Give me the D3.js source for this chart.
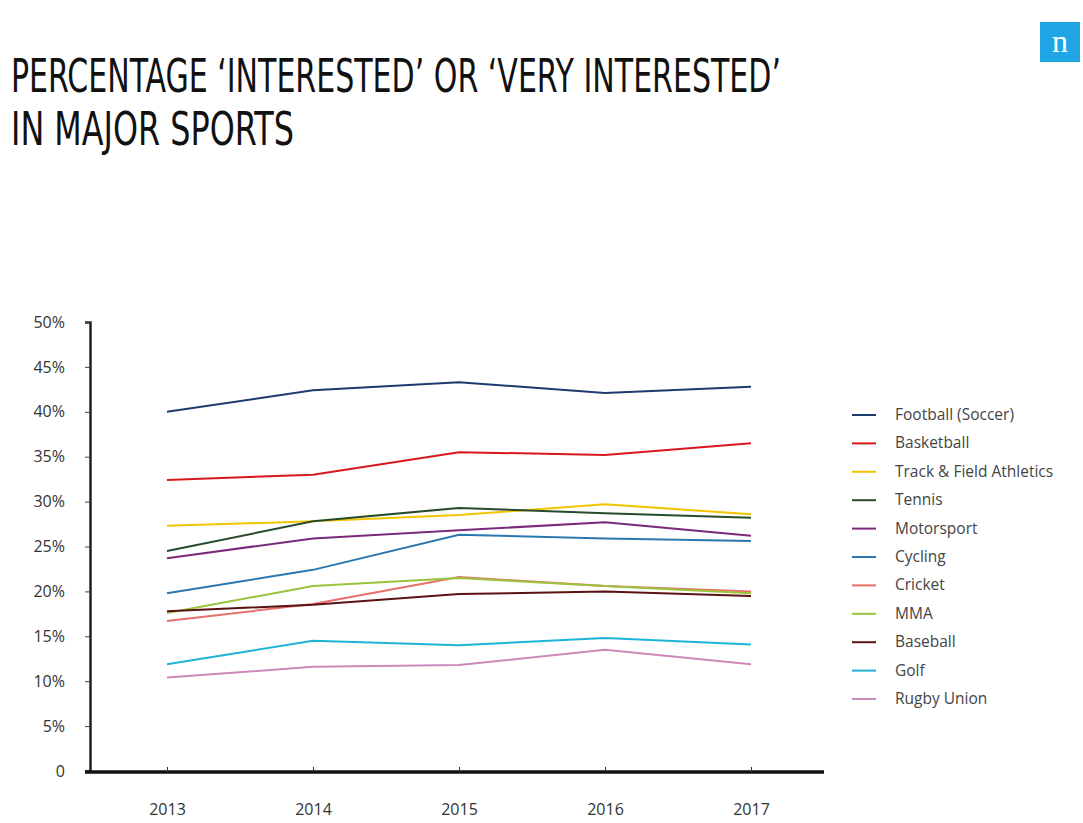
<!DOCTYPE html>
<html>
<head>
<meta charset="utf-8">
<title>Interest in major sports</title>
<script src="https://cdnjs.cloudflare.com/ajax/libs/d3/7.8.5/d3.min.js"></script>
<style>
  body { margin: 0; background: #fff; }
  svg { display: block; }
  .tick text { font-family: "Open Sans", "Noto Sans", sans-serif; fill: #333; }
</style>
</head>
<body>
<svg id="chart" width="1083" height="823"></svg>
<script>
// data
var years = ["2013", "2014", "2015", "2016", "2017"];
var yTicks = [0, 5, 10, 15, 20, 25, 30, 35, 40, 45, 50];

var sports = ["Football (Soccer)", "Basketball", "Track & Field Athletics", "Tennis", "Motorsport",
              "Cycling", "Cricket", "MMA", "Baseball", "Golf", "Rugby Union"];
var colors = ["#1f3a6e", "#d7191f", "#f2c500", "#274a2c", "#7b2a7b",
              "#2a78b0", "#e8706a", "#9ac43a", "#5a1212", "#1eb4d8", "#cc88bb"];

var football   = [40.0, 42.4, 43.3, 42.1, 42.8];
var basketball = [32.4, 33.0, 35.5, 35.2, 36.5];
var track      = [27.3, 27.8, 28.5, 29.7, 28.6];
var tennis     = [24.5, 27.8, 29.3, 28.7, 28.2];
var motorsport = [23.7, 25.9, 26.8, 27.7, 26.2];
var cycling    = [19.8, 22.4, 26.3, 25.9, 25.6];
var cricket    = [16.7, 18.6, 21.6, 20.6, 20.0];
var mma        = [17.6, 20.6, 21.5, 20.6, 19.8];
var baseball   = [17.8, 18.5, 19.7, 20.0, 19.5];
var golf       = [11.9, 14.5, 14.0, 14.8, 14.1];
var rugby      = [10.4, 11.6, 11.8, 13.5, 11.9];

var series = [football, basketball, track, tennis, motorsport, cycling, cricket, mma, baseball, golf, rugby];

var svg = d3.select("#chart");

// title
var title = svg.append("g").attr("font-family", "'Liberation Sans Narrow', 'DejaVu Sans Condensed', Roboto, sans-serif")
  .attr("font-size", 47).attr("fill", "#111");
title.append("text").attr("x", 11).attr("y", 92)
  .attr("textLength", 770).attr("lengthAdjust", "spacingAndGlyphs")
  .text("PERCENTAGE \u2018INTERESTED\u2019 OR \u2018VERY INTERESTED\u2019");
title.append("text").attr("x", 11).attr("y", 145)
  .attr("textLength", 283).attr("lengthAdjust", "spacingAndGlyphs")
  .text("IN MAJOR SPORTS");

// logo
svg.append("rect").attr("x", 1040).attr("y", 22).attr("width", 40).attr("height", 40).attr("fill", "#1fa5e3");
svg.append("text").attr("x", 1060).attr("y", 52).attr("text-anchor", "middle")
  .attr("font-family", "'Liberation Serif', 'DejaVu Serif', serif").attr("font-size", 32)
  .attr("fill", "#fff").text("n");

// scales
var x = d3.scalePoint().domain(years).range([167, 751]);
var y = d3.scaleLinear().domain([0, 50]).range([771, 322]);

// y axis
var yAxis = svg.append("g").attr("transform", "translate(90,0)")
  .call(d3.axisLeft(y).tickValues(yTicks).tickSize(5).tickPadding(20)
    .tickFormat(function(d) { return d === 0 ? "0" : d + "%"; }));
yAxis.select(".domain").attr("stroke", "#222").attr("stroke-width", 2.5);
yAxis.selectAll(".tick line").attr("stroke", "#444");
yAxis.selectAll(".tick text").attr("font-size", 16);

// x axis
var xAxis = svg.append("g").attr("transform", "translate(0,772)")
  .call(d3.axisBottom(x).tickSize(-5).tickPadding(32));
xAxis.select(".domain").attr("d", "M85,0H824").attr("stroke", "#111").attr("stroke-width", 3.5);
xAxis.selectAll(".tick line").attr("stroke", "#333");
xAxis.selectAll(".tick text").attr("font-size", 16);

// lines
var line = d3.line().x(function(d, i) { return x(years[i]); }).y(function(d) { return y(d); });
svg.append("g").selectAll("path").data(series).enter().append("path")
  .attr("d", line).attr("fill", "none")
  .attr("stroke", function(d, i) { return colors[i]; })
  .attr("stroke-width", 2);

// legend
var legend = svg.append("g").selectAll("g").data(sports).enter().append("g")
  .attr("transform", function(d, i) { return "translate(852," + (415 + i * 28.4) + ")"; });
legend.append("line").attr("x1", 0).attr("x2", 24)
  .attr("stroke", function(d, i) { return colors[i]; }).attr("stroke-width", 2);
legend.append("text").attr("x", 43).attr("y", 5)
  .attr("font-family", "'Open Sans', 'Noto Sans', sans-serif").attr("font-size", 15.5)
  .attr("fill", "#444").text(function(d) { return d; });
</script>
</body>
</html>
